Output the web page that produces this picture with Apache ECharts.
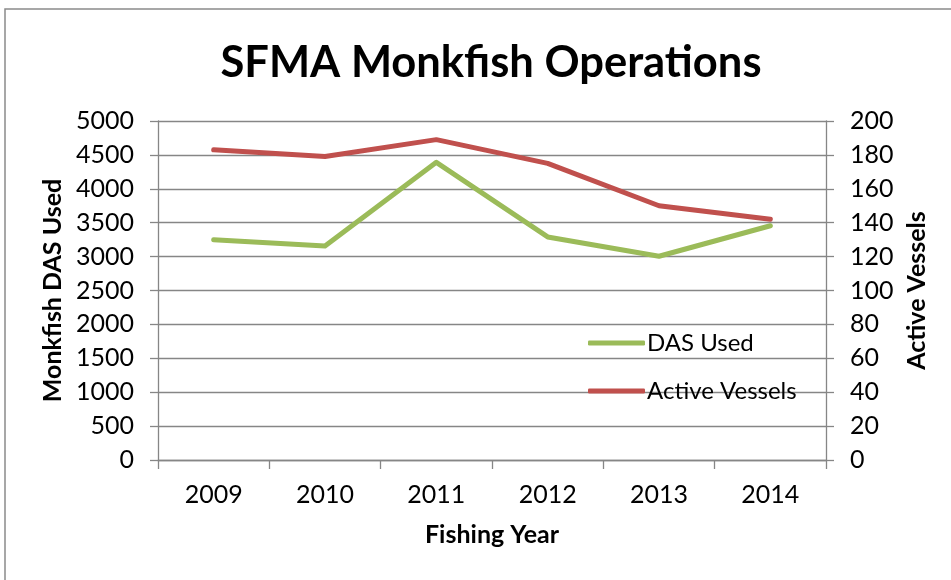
<!DOCTYPE html>
<html>
<head>
<meta charset="utf-8">
<script src="https://cdn.jsdelivr.net/npm/echarts@6/dist/echarts.min.js"></script>
<style>
  html, body { margin: 0; padding: 0; background: #fff; }
  #chart { width: 951px; height: 580px; }
</style>
</head>
<body>
<div id="chart"></div>
<script>
// Fishing years on the category axis
const years = ['2009', '2010', '2011', '2012', '2013', '2014'];
// Monkfish days-at-sea used (left axis)
const dasUsed = [3250, 3155, 4390, 3290, 3005, 3455];
// Number of active vessels (right axis)
const activeVessels = [183, 179, 189, 175, 150, 142];

const FONT = 'Lato, "Open Sans", sans-serif';
const GRID_GRAY = '#868686';
const plain = v => String(v);

const chart = echarts.init(document.getElementById('chart'));

chart.setOption({
  animation: false,
  backgroundColor: '#ffffff',
  graphic: [{
    type: 'rect',
    shape: { x: 5, y: 9, width: 980, height: 620 },
    style: { fill: 'none', stroke: '#8a8a8a', lineWidth: 1.5 },
    silent: true,
    z: -1
  }],
  title: {
    text: 'SFMA Monkfish Operations',
    left: 486,
    top: 36,
    textAlign: 'center',
    textStyle: { fontFamily: FONT, fontWeight: 'bold', fontSize: 43.5, color: '#000' }
  },
  grid: { left: 158, right: 125, top: 121, bottom: 120, containLabel: false },
  legend: {
    orient: 'vertical',
    left: 583,
    top: 326,
    itemWidth: 57,
    itemHeight: 5,
    itemGap: 24,
    icon: 'roundRect',
    textStyle: { fontFamily: FONT, fontSize: 24, color: '#000', lineHeight: 24, padding: [0, 0, 0, -3] },
    data: ['DAS Used', 'Active Vessels']
  },
  xAxis: {
    type: 'category',
    data: years,
    boundaryGap: true,
    name: 'Fishing Year',
    nameLocation: 'middle',
    nameGap: 62,
    nameTextStyle: { fontFamily: FONT, fontWeight: 'bold', fontSize: 25, color: '#000' },
    axisLine: { lineStyle: { color: GRID_GRAY, width: 1.3 } },
    axisTick: { show: true, alignWithLabel: false, length: 9, lineStyle: { color: GRID_GRAY, width: 1.3 } },
    axisLabel: { fontFamily: FONT, fontSize: 25, color: '#000', margin: 22 },
    splitLine: { show: false }
  },
  yAxis: [{
    type: 'value',
    min: 0,
    max: 5000,
    interval: 500,
    position: 'left',
    name: 'Monkfish DAS Used',
    nameLocation: 'middle',
    nameGap: 87,
    nameTextStyle: { fontFamily: FONT, fontWeight: 'bold', fontSize: 25, color: '#000' },
    axisLine: { show: true, lineStyle: { color: GRID_GRAY, width: 1.3 } },
    axisTick: { show: true, length: 8, lineStyle: { color: GRID_GRAY, width: 1.3 } },
    axisLabel: { fontFamily: FONT, fontSize: 25, color: '#000', margin: 24, formatter: plain },
    splitLine: { show: true, lineStyle: { color: GRID_GRAY, width: 1.3 } }
  }, {
    type: 'value',
    min: 0,
    max: 200,
    interval: 20,
    position: 'right',
    name: 'Active Vessels',
    nameLocation: 'middle',
    nameGap: 78,
    nameRotate: 90,
    nameTextStyle: { fontFamily: FONT, fontWeight: 'bold', fontSize: 25, color: '#000' },
    axisLine: { show: true, lineStyle: { color: GRID_GRAY, width: 1.3 } },
    axisTick: { show: true, length: 8, lineStyle: { color: GRID_GRAY, width: 1.3 } },
    axisLabel: { fontFamily: FONT, fontSize: 25, color: '#000', margin: 24, formatter: plain },
    splitLine: { show: false }
  }],
  series: [{
    name: 'DAS Used',
    type: 'line',
    yAxisIndex: 0,
    data: dasUsed,
    showSymbol: false,
    symbol: 'none',
    color: '#9BBB59',
    lineStyle: { color: '#9BBB59', width: 5, cap: 'round', join: 'round' }
  }, {
    name: 'Active Vessels',
    type: 'line',
    yAxisIndex: 1,
    data: activeVessels,
    showSymbol: false,
    symbol: 'none',
    color: '#C0504D',
    lineStyle: { color: '#C0504D', width: 5, cap: 'round', join: 'round' }
  }]
});
</script>
</body>
</html>
